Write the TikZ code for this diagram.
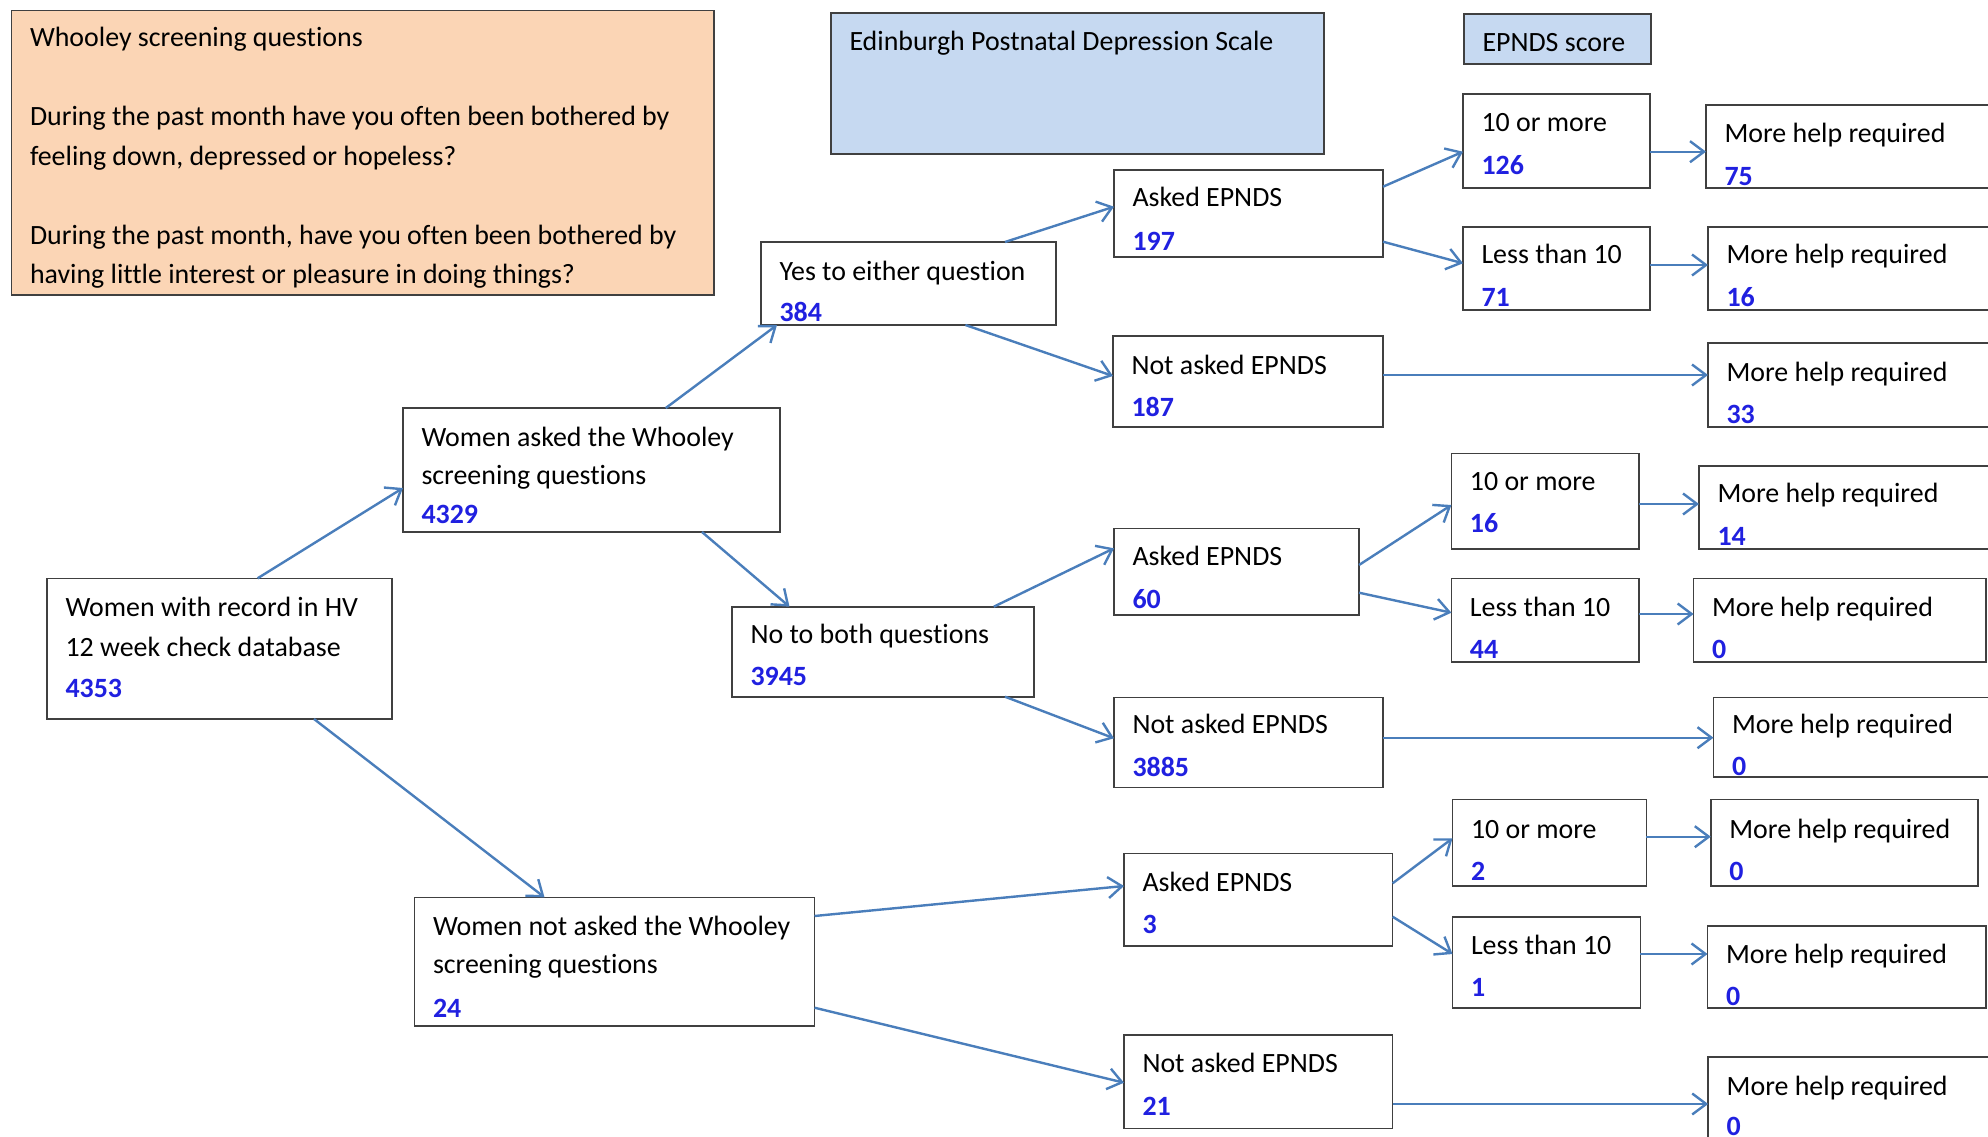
\documentclass[tikz,border=0pt]{standalone}
\usepackage{fontspec}
\setmainfont{Carlito}[Ligatures=NoCommon]
\usetikzlibrary{arrows.meta}

\definecolor{boxline}{RGB}{64,64,64}
\definecolor{peach}{RGB}{251,213,181}
\definecolor{paleblue}{RGB}{198,217,241}
\definecolor{countblue}{RGB}{32,32,224}
\definecolor{flowblue}{RGB}{74,126,187}

\tikzset{
  box/.style={draw=boxline, line width=1.6pt, fill=white, rectangle,
    inner sep=0pt, outer sep=0pt, anchor=north west},
  lbl/.style={anchor=base west, inner sep=0pt, outer sep=0pt,
    font=\fontsize{27.9}{33}\selectfont},
  num/.style={lbl, text=countblue, font=\fontsize{27.9}{33}\selectfont\bfseries},
  arr/.style={draw=flowblue, line width=2.4pt,
    -{Straight Barb[length=14pt,width=21pt,line width=2.4pt]}}
}

\begin{document}
\begin{tikzpicture}[x=1pt,y=-1pt]
\useasboundingbox (0,0) rectangle (1988,1137);
\clip (0,0) rectangle (1988,1137);

% ---------- boxes ----------
\node[box, fill=peach, minimum width=702.5pt, minimum height=284.3pt] (whooley) at (11.5,10.7) {};
\node[box, fill=paleblue, minimum width=493pt, minimum height=140.7pt] (epds) at (831,13.3) {};
\node[box, fill=paleblue, minimum width=187pt, minimum height=50pt] (score) at (1464,14) {};

\node[box, minimum width=345pt, minimum height=140.7pt] (wrec) at (47,578.3) {};
\node[box, minimum width=377pt, minimum height=124pt] (wasked) at (403,408) {};
\node[box, minimum width=400pt, minimum height=128.7pt] (wnot) at (414.5,897.3) {};

\node[box, minimum width=295pt, minimum height=83pt] (yes) at (761,242) {};
\node[box, minimum width=302pt, minimum height=90pt] (nob) at (732,606.7) {};

\node[box, minimum width=269pt, minimum height=87pt] (askA) at (1114,170) {};
\node[box, minimum width=270pt, minimum height=91pt] (naskA) at (1113,336) {};
\node[box, minimum width=245pt, minimum height=86.7pt] (askB) at (1114,528.3) {};
\node[box, minimum width=269pt, minimum height=90pt] (naskB) at (1114,697.3) {};
\node[box, minimum width=268.6pt, minimum height=92.7pt] (askC) at (1124,853.3) {};
\node[box, minimum width=268.6pt, minimum height=93.3pt] (naskC) at (1124,1035) {};

\node[box, minimum width=187pt, minimum height=94pt] (hiA) at (1463,94) {};
\node[box, minimum width=187pt, minimum height=83pt] (loA) at (1463,227) {};
\node[box, minimum width=187.4pt, minimum height=95.7pt] (hiB) at (1451.4,453.3) {};
\node[box, minimum width=187.4pt, minimum height=83.4pt] (loB) at (1451.4,578.3) {};
\node[box, minimum width=193.8pt, minimum height=86.4pt] (hiC) at (1452.5,799.3) {};
\node[box, minimum width=187.8pt, minimum height=91pt] (loC) at (1452.5,916.7) {};

\node[box, minimum width=300pt, minimum height=83pt] (helpA) at (1706,105) {};
\node[box, minimum width=300pt, minimum height=83pt] (helpB) at (1708,227) {};
\node[box, minimum width=300pt, minimum height=84pt] (helpC) at (1708,343) {};
\node[box, minimum width=300pt, minimum height=83.3pt] (helpD) at (1699,465.7) {};
\node[box, minimum width=292.4pt, minimum height=83.4pt] (helpE) at (1693.6,578.3) {};
\node[box, minimum width=300pt, minimum height=79.4pt] (helpF) at (1713.5,697.3) {};
\node[box, minimum width=267pt, minimum height=86.4pt] (helpG) at (1710.8,799.3) {};
\node[box, minimum width=278.5pt, minimum height=82pt] (helpH) at (1707.5,925.7) {};
\node[box, minimum width=300pt, minimum height=120pt] (helpI) at (1708.2,1056.7) {};

% ---------- texts ----------
\node[lbl] (whooley-1) at ([xshift=18.5pt,yshift=-36.3pt]whooley.north west) {Whooley screening questions};
\node[lbl] (whooley-2) at ([xshift=18.5pt,yshift=-115.3pt]whooley.north west) {During the past month have you often been bothered by};
\node[lbl] (whooley-3) at ([xshift=18.5pt,yshift=-155pt]whooley.north west) {feeling down, depressed or hopeless?};
\node[lbl] (whooley-4) at ([xshift=18.5pt,yshift=-233.3pt]whooley.north west) {During the past month, have you often been bothered by};
\node[lbl] (whooley-5) at ([xshift=18.5pt,yshift=-272.3pt]whooley.north west) {having little interest or pleasure in doing things?};

\node[lbl] (epds-1) at ([xshift=18.5pt,yshift=-37pt]epds.north west) {Edinburgh Postnatal Depression Scale};
\node[lbl] (score-1) at ([xshift=18.5pt,yshift=-37.7pt]score.north west) {EPNDS score};

\node[lbl] (wrec-1) at ([xshift=18.5pt,yshift=-38.4pt]wrec.north west) {Women with record in HV};
\node[lbl] (wrec-2) at ([xshift=18.5pt,yshift=-77.7pt]wrec.north west) {12 week check database};
\node[num] (wrec-n) at ([xshift=18.5pt,yshift=-119pt]wrec.north west) {4353};

\node[lbl] (wasked-1) at ([xshift=18.5pt,yshift=-38.4pt]wasked.north west) {Women asked the Whooley};
\node[lbl] (wasked-2) at ([xshift=18.5pt,yshift=-76.7pt]wasked.north west) {screening questions};
\node[num] (wasked-n) at ([xshift=18.5pt,yshift=-115.7pt]wasked.north west) {4329};

\node[lbl] (wnot-1) at ([xshift=18.5pt,yshift=-37.7pt]wnot.north west) {Women not asked the Whooley};
\node[lbl] (wnot-2) at ([xshift=18.5pt,yshift=-76pt]wnot.north west) {screening questions};
\node[num] (wnot-n) at ([xshift=18.5pt,yshift=-120pt]wnot.north west) {24};

\node[lbl] (yes-1) at ([xshift=18.5pt,yshift=-38pt]yes.north west) {Yes to either question};
\node[num] (yes-n) at ([xshift=18.5pt,yshift=-79.7pt]yes.north west) {384};
\node[lbl] (nob-1) at ([xshift=18.5pt,yshift=-36.3pt]nob.north west) {No to both questions};
\node[num] (nob-n) at ([xshift=18.5pt,yshift=-78.3pt]nob.north west) {3945};

\node[lbl] (askA-1) at ([xshift=18.5pt,yshift=-36.7pt]askA.north west) {Asked EPNDS};
\node[num] (askA-n) at ([xshift=18.5pt,yshift=-80pt]askA.north west) {197};
\node[lbl] (naskA-1) at ([xshift=18.5pt,yshift=-38pt]naskA.north west) {Not asked EPNDS};
\node[num] (naskA-n) at ([xshift=18.5pt,yshift=-80.7pt]naskA.north west) {187};
\node[lbl] (askB-1) at ([xshift=18.5pt,yshift=-36.7pt]askB.north west) {Asked EPNDS};
\node[num] (askB-n) at ([xshift=18.5pt,yshift=-80pt]askB.north west) {60};
\node[lbl] (naskB-1) at ([xshift=18.5pt,yshift=-36pt]naskB.north west) {Not asked EPNDS};
\node[num] (naskB-n) at ([xshift=18.5pt,yshift=-78.7pt]naskB.north west) {3885};
\node[lbl] (askC-1) at ([xshift=18.5pt,yshift=-37.7pt]askC.north west) {Asked EPNDS};
\node[num] (askC-n) at ([xshift=18.5pt,yshift=-80pt]askC.north west) {3};
\node[lbl] (naskC-1) at ([xshift=18.5pt,yshift=-37.7pt]naskC.north west) {Not asked EPNDS};
\node[num] (naskC-n) at ([xshift=18.5pt,yshift=-80pt]naskC.north west) {21};

\node[lbl] (hiA-1) at ([xshift=18.5pt,yshift=-37.7pt]hiA.north west) {10 or more};
\node[num] (hiA-n) at ([xshift=18.5pt,yshift=-80pt]hiA.north west) {126};
\node[lbl] (loA-1) at ([xshift=18.5pt,yshift=-36.3pt]loA.north west) {Less than 10};
\node[num] (loA-n) at ([xshift=18.5pt,yshift=-79.7pt]loA.north west) {71};
\node[lbl] (hiB-1) at ([xshift=18.5pt,yshift=-36.7pt]hiB.north west) {10 or more};
\node[num] (hiB-n) at ([xshift=18.5pt,yshift=-79.3pt]hiB.north west) {16};
\node[lbl] (loB-1) at ([xshift=18.5pt,yshift=-37.7pt]loB.north west) {Less than 10};
\node[num] (loB-n) at ([xshift=18.5pt,yshift=-80pt]loB.north west) {44};
\node[lbl] (hiC-1) at ([xshift=18.5pt,yshift=-39pt]hiC.north west) {10 or more};
\node[num] (hiC-n) at ([xshift=18.5pt,yshift=-80.7pt]hiC.north west) {2};
\node[lbl] (loC-1) at ([xshift=18.5pt,yshift=-37.3pt]loC.north west) {Less than 10};
\node[num] (loC-n) at ([xshift=18.5pt,yshift=-79.3pt]loC.north west) {1};

\node[lbl] (helpA-1) at ([xshift=18.5pt,yshift=-37.7pt]helpA.north west) {More help required};
\node[num] (helpA-n) at ([xshift=18.5pt,yshift=-80pt]helpA.north west) {75};
\node[lbl] (helpB-1) at ([xshift=18.5pt,yshift=-36.3pt]helpB.north west) {More help required};
\node[num] (helpB-n) at ([xshift=18.5pt,yshift=-79.7pt]helpB.north west) {16};
\node[lbl] (helpC-1) at ([xshift=18.5pt,yshift=-38.7pt]helpC.north west) {More help required};
\node[num] (helpC-n) at ([xshift=18.5pt,yshift=-80pt]helpC.north west) {33};
\node[lbl] (helpD-1) at ([xshift=18.5pt,yshift=-37pt]helpD.north west) {More help required};
\node[num] (helpD-n) at ([xshift=18.5pt,yshift=-79.3pt]helpD.north west) {14};
\node[lbl] (helpE-1) at ([xshift=18.5pt,yshift=-37.7pt]helpE.north west) {More help required};
\node[num] (helpE-n) at ([xshift=18.5pt,yshift=-80pt]helpE.north west) {0};
\node[lbl] (helpF-1) at ([xshift=18.5pt,yshift=-36pt]helpF.north west) {More help required};
\node[num] (helpF-n) at ([xshift=18.5pt,yshift=-77.7pt]helpF.north west) {0};
\node[lbl] (helpG-1) at ([xshift=18.5pt,yshift=-39pt]helpG.north west) {More help required};
\node[num] (helpG-n) at ([xshift=18.5pt,yshift=-80.7pt]helpG.north west) {0};
\node[lbl] (helpH-1) at ([xshift=18.5pt,yshift=-37.6pt]helpH.north west) {More help required};
\node[num] (helpH-n) at ([xshift=18.5pt,yshift=-79.3pt]helpH.north west) {0};
\node[lbl] (helpI-1) at ([xshift=18.5pt,yshift=-38.3pt]helpI.north west) {More help required};
\node[num] (helpI-n) at ([xshift=18.5pt,yshift=-78.3pt]helpI.north west) {0};

% ---------- connectors: screening branches ----------
\draw[arr] ([xshift=210.6pt]wrec.north west) -- ([yshift=-80pt]wasked.north west);
\draw[arr] ([xshift=267pt]wrec.south west) -- ([xshift=130pt]wnot.north west);
\draw[arr] ([xshift=262.8pt]wasked.north west) -- ([xshift=16pt]yes.south west);
\draw[arr] ([xshift=299pt]wasked.south west) -- ([xshift=57.5pt]nob.north west);

% ---------- connectors: EPNDS asked / not asked ----------
\draw[arr] ([xshift=244pt]yes.north west) -- ([yshift=-36.7pt]askA.north west);
\draw[arr] ([xshift=204.4pt]yes.south west) -- ([yshift=-40pt]naskA.north west);
\draw[arr] ([xshift=261.8pt]nob.north west) -- ([yshift=-20pt]askB.north west);
\draw[arr] ([xshift=273pt]nob.south west) -- ([yshift=-41pt]naskB.north west);
\draw[arr] ([yshift=-18.7pt]wnot.north east) -- ([yshift=-32.7pt]askC.north west);
\draw[arr] ([yshift=-110.4pt]wnot.north east) -- ([yshift=-47.7pt]naskC.north west);

% ---------- connectors: EPNDS score ----------
\draw[arr] ([yshift=-16.7pt]askA.north east) -- ([yshift=-57.7pt]hiA.north west);
\draw[arr] ([yshift=-71.7pt]askA.north east) -- ([yshift=-36.3pt]loA.north west);
\draw[arr] ([yshift=-36.7pt]askB.north east) -- ([yshift=-51.7pt]hiB.north west);
\draw[arr] ([yshift=-64.4pt]askB.north east) -- ([yshift=-34.4pt]loB.north west);
\draw[arr] ([yshift=-30pt]askC.north east) -- ([yshift=-39pt]hiC.north west);
\draw[arr] ([yshift=-63.4pt]askC.north east) -- ([yshift=-37.3pt]loC.north west);

% ---------- connectors: more help required ----------
\draw[arr] ([yshift=-57.7pt]hiA.north east) coordinate (hA) -- (hA -| helpA.west);
\draw[arr] ([yshift=-38pt]loA.north east) coordinate (hB) -- (hB -| helpB.west);
\draw[arr] ([yshift=-39pt]naskA.north east) coordinate (hC) -- (hC -| helpC.west);
\draw[arr] ([yshift=-50.7pt]hiB.north east) coordinate (hD) -- (hD -| helpD.west);
\draw[arr] ([yshift=-35.7pt]loB.north east) coordinate (hE) -- (hE -| helpE.west);
\draw[arr] ([yshift=-40.4pt]naskB.north east) coordinate (hF) -- (hF -| helpF.west);
\draw[arr] ([yshift=-37.4pt]hiC.north east) coordinate (hG) -- (hG -| helpG.west);
\draw[arr] ([yshift=-37.3pt]loC.north east) coordinate (hH) -- (hH -| helpH.west);
\draw[arr] ([yshift=-69pt]naskC.north east) coordinate (hI) -- (hI -| helpI.west);
\end{tikzpicture}
\end{document}
